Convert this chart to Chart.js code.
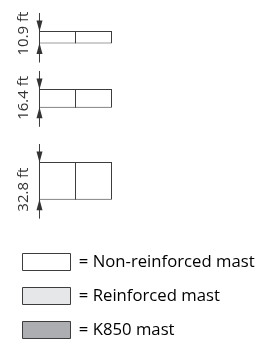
<!DOCTYPE html>
<html>
<head>
<meta charset="utf-8">
<script src="https://cdn.jsdelivr.net/npm/chart.js@4.4.1/dist/chart.umd.min.js"></script>
<style>
  html, body { margin: 0; padding: 0; background: #fff; }
  #wrap { width: 263px; height: 339px; }
</style>
</head>
<body>
<div id="wrap"><canvas id="grafico" width="263" height="339"></canvas></div>
<script>
// mast heights in ft, two sections per mast
const heightsFt = [10.9, 16.4, 32.8];
const sections = [0, 1];
const heightLabels = heightsFt.map(h => h + ' ft');
const legendLabels = ['= Non-reinforced mast', '= Reinforced mast', '= K850 mast'];
const legendFills = ['#ffffff', '#e6e7e8', '#acaeb1'];

// where each mast sits on the (hidden) vertical axis, in ft from the top
const rowTopFt = [27.0, 77.5, 141.1];
const yMaxFt = 206;

Chart.defaults.font.family = "'Open Sans', sans-serif";
Chart.defaults.color = '#333';

function arrowHead(ctx, x, tip, dir) {
  // dir = 1 arrow points down, -1 points up
  ctx.beginPath();
  ctx.moveTo(x, tip);
  ctx.lineTo(x - 3, tip - dir * 11);
  ctx.lineTo(x + 3, tip - dir * 11);
  ctx.closePath();
  ctx.fill();
}

const dimPlugin = {
  id: 'dims',
  afterDatasetsDraw(chart) {
    const ctx = chart.ctx;
    ctx.save();
    ctx.strokeStyle = '#3d3d3d';
    ctx.lineWidth = 1;
    chart.data.datasets.forEach((ds, i) => {
      const bar = chart.getDatasetMeta(i).data[0];
      const left = bar.x - bar.width / 2 + 0.5;
      const top = Math.min(bar.y, bar.base);
      const bottom = Math.max(bar.y, bar.base);
      ctx.beginPath();
      ctx.moveTo(left, top - 18);
      ctx.lineTo(left, bottom + 19);
      ctx.stroke();
      ctx.fillStyle = '#333';
      arrowHead(ctx, left, top + 0.5, 1);
      arrowHead(ctx, left, bottom - 0.5, -1);
      ctx.save();
      ctx.translate(left - 11, bottom + 12);
      ctx.rotate(-Math.PI / 2);
      ctx.font = "15px 'Open Sans', sans-serif";
      ctx.textAlign = 'left';
      ctx.textBaseline = 'alphabetic';
      ctx.fillText(heightLabels[i], 0, 0);
      ctx.restore();
    });
    ctx.restore();
  }
};

new Chart(document.getElementById('grafico'), {
  type: 'bar',
  data: {
    datasets: heightsFt.map((h, i) => ({
      label: heightLabels[i],
      data: sections.map(s => ({x: s, y: [rowTopFt[i], rowTopFt[i] + h]})),
      backgroundColor: '#ffffff',
      borderColor: '#3d3d3d',
      borderWidth: 1,
      borderSkipped: false,
      grouped: false,
      categoryPercentage: 1,
      barPercentage: 37 / 36,
      inflateAmount: 0
    }))
  },
  options: {
    responsive: false,
    animation: false,
    layout: {padding: {left: 5.5, right: 0, top: 0, bottom: -9.5}},
    scales: {
      x: {
        type: 'linear', display: false, offset: false,
        min: -1.4444, max: 5.7083,
        afterBuildTicks: axis => { axis.ticks = []; }
      },
      y: {type: 'linear', display: false, reverse: true, min: 0, max: yMaxFt}
    },
    plugins: {
      tooltip: {enabled: false},
      legend: {
        position: 'bottom',
        align: 'start',
        labels: {
          boxWidth: 48,
          boxHeight: 17,
          padding: 17,
          color: '#333',
          font: {size: 16.7},
          generateLabels: () => legendLabels.map((t, i) => ({
            text: t,
            fillStyle: legendFills[i],
            strokeStyle: '#3d3d3d',
            lineWidth: 1,
            hidden: false,
            datasetIndex: i
          }))
        }
      }
    }
  },
  plugins: [dimPlugin]
});
</script>
</body>
</html>
